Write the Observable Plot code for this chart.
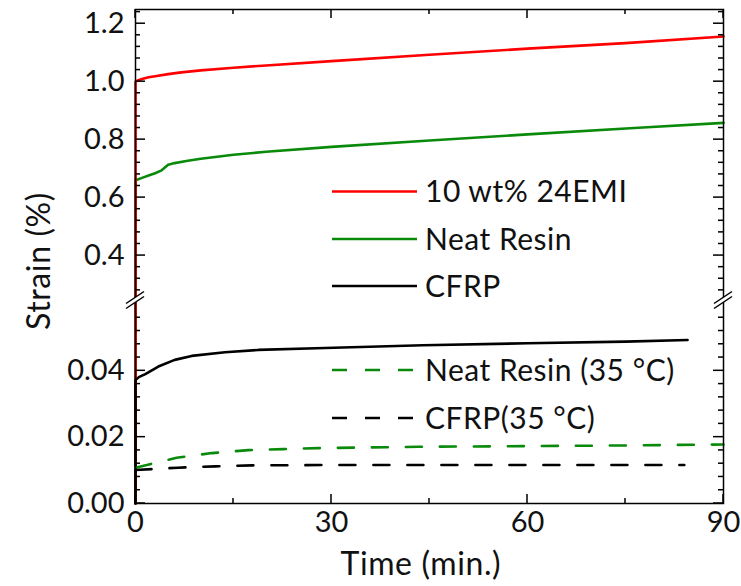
<!DOCTYPE html>
<html>
<head>
<meta charset="utf-8">
<script src="https://cdn.jsdelivr.net/npm/d3@7"></script>
<script src="https://cdn.jsdelivr.net/npm/@observablehq/plot@0.6"></script>
<style>
  body { margin: 0; background: #fff; font-family: Lato, "Open Sans", sans-serif; }
  #wrap { position: relative; width: 741px; height: 586px; overflow: hidden; }
  #wrap svg { display: block; }
  .title { position: absolute; font-size: 32px; letter-spacing: 0.6px; color: #111; white-space: nowrap; line-height: 1; }
  #legend { position: absolute; left: 0; top: 0; pointer-events: none; }
</style>
</head>
<body>
<div id="wrap"></div>
<script>
// ---------- data ----------
const seriesNames  = ["10 wt% 24EMI", "Neat Resin", "CFRP", "Neat Resin (35 °C)", "CFRP(35 °C)"];
const seriesColors = ["#ff0000", "#0a8a0a", "#000000", "#0a8a0a", "#000000"];
const seriesDashed = [false, false, false, true, true];

const timeEMI   = [0, 0,    0.3,   1,     2,     3,     5,     7,     10,    15,    20,    30,    45,    60,    75,    90];
const strainEMI = [0, 1.000, 1.004, 1.009, 1.015, 1.019, 1.026, 1.032, 1.039, 1.048, 1.056, 1.071, 1.093, 1.114, 1.133, 1.156];

const timeResin   = [0, 0,    1,     2,     3,     4,     5,     6,     8,     10,    15,    20,    30,    45,    60,    77,    90];
const strainResin = [0, 0.660, 0.668, 0.676, 0.684, 0.694, 0.713, 0.719, 0.727, 0.734, 0.748, 0.758, 0.775, 0.797, 0.818, 0.841, 0.858];

const timeCFRP   = [0, 0,      0.5,    1.5,   3.5,    6,      8.6,    13.7,   18.8,   29,     44,     60,     75,     84.5];
const strainCFRP = [0, 0.0372, 0.0381, 0.039, 0.0413, 0.0433, 0.0445, 0.0456, 0.0463, 0.0469, 0.0477, 0.0483, 0.0488, 0.0493];

const timeResin35   = [0,      6.3,    11.7,   17.3,   22.6,   28,     43.3,   60,     75,     90];
const strainResin35 = [0.0108, 0.0138, 0.0152, 0.0161, 0.0164, 0.0167, 0.0171, 0.0173, 0.0175, 0.0178];

const timeCFRP35   = [0,      6.5,    12.2,   17.8,   30,     50,     70,     84];
const strainCFRP35 = [0.0101, 0.0108, 0.0112, 0.0115, 0.0116, 0.0116, 0.0116, 0.0116];

// axis ticks
const xTickLabels = [0, 30, 60, 90];
const xMinorTicks = [15, 45, 75];
const yTickLabels = [0, 0.02, 0.04, 0.4, 0.6, 0.8, 1.0, 1.2];
const yMinorLow   = [0.004, 0.008, 0.012, 0.016, 0.024, 0.028, 0.032, 0.036, 0.044, 0.048, 0.052, 0.056];
const yMinorHigh  = [0.28, 0.32, 0.36, 0.44, 0.48, 0.52, 0.56, 0.64, 0.68, 0.72, 0.76, 0.84, 0.88, 0.92, 0.96, 1.04, 1.08, 1.12, 1.16, 1.24];

// broken y axis: lower panel 0 … 0.0612, upper panel 0.245 … 1.249
const yDomain = [0, 0.0612, 0.245, 1.249];
const xDomain = [0, 90];

// ---------- build ----------
const W = 741, H = 586;
const mL = 135, mR = 18, mT = 9, mB = 83;
const breakPx = 300;
const yRange = [H - mB, breakPx, breakPx, mT];

const series = [
  [timeEMI, strainEMI], [timeResin, strainResin], [timeCFRP, strainCFRP],
  [timeResin35, strainResin35], [timeCFRP35, strainCFRP35]
].map(([t, s], k) => t.map((tv, i) => ({t: tv, s: s[i], k})));

const drawOrder = [1, 0, 2, 3, 4];
const yFmt = v => v < 0.1 ? d3.format(".2f")(v) : d3.format(".1f")(v);

// tick rows as data for Plot rect marks (inward ticks on every side)
const yTickRows = [];
for (const [ticks, len] of [[yTickLabels, 10], [yMinorLow, 5], [yMinorHigh, 5]])
  for (const v of ticks) yTickRows.push({v, len});
const xTickRows = [];
for (const [ticks, len] of [[xTickLabels, 9], [xMinorTicks, 5]])
  for (const v of ticks) xTickRows.push({v, len});

// axis-break symbols and inward ticks, placed with the plot's own scales
function decorations(index, scales) {
  const g = d3.create("svg:g");
  const x0 = scales.x(xDomain[0]), x1 = scales.x(xDomain[1]);
  const y0 = scales.y(yDomain[0]), y1 = scales.y(yDomain[3]);
  for (const {v, len} of yTickRows) {
    const y = scales.y(v);
    g.append("rect").attr("x", x0).attr("y", y - 0.75).attr("width", len).attr("height", 1.5).attr("fill", "#000");
    g.append("rect").attr("x", x1 - len).attr("y", y - 0.75).attr("width", len).attr("height", 1.5).attr("fill", "#000");
  }
  for (const {v, len} of xTickRows) {
    const x = scales.x(v);
    g.append("rect").attr("x", x - 0.75).attr("y", y0 - len).attr("width", 1.5).attr("height", len).attr("fill", "#000");
    g.append("rect").attr("x", x - 0.75).attr("y", y1).attr("width", 1.5).attr("height", len).attr("fill", "#000");
  }
  const yb = scales.y(0.15);
  const gap = 5;
  for (const xb of [x0, x1]) {
    g.append("path")
      .attr("d", `M${xb - 9},${yb + 6 + gap / 2}L${xb + 9},${yb - 6 + gap / 2}L${xb + 9},${yb - 6 - gap / 2}L${xb - 9},${yb + 6 - gap / 2}Z`)
      .attr("fill", "#fff");
    for (const o of [-gap / 2, gap / 2]) {
      g.append("line")
        .attr("x1", xb - 9).attr("y1", yb + 6 + o)
        .attr("x2", xb + 9).attr("y2", yb - 6 + o)
        .attr("stroke", "#000").attr("stroke-width", 1.5);
    }
  }
  return g.node();
}

const chart = Plot.plot({
  width: W, height: H,
  marginLeft: mL, marginRight: mR, marginTop: mT, marginBottom: mB,
  style: {fontFamily: "Lato, 'Open Sans', sans-serif", fontSize: "29px", color: "#111", background: "#fff"},
  x: {domain: xDomain},
  y: {type: "linear", domain: yDomain, range: yRange},
  marks: [
    ...drawOrder.map(k => Plot.line(series[k], {
      x: "t", y: "s", stroke: seriesColors[k], strokeWidth: 2.6,
      strokeDasharray: seriesDashed[k] ? "16,18" : null
    })),
    Plot.axisY({anchor: "left", ticks: yTickLabels, tickSize: 0, tickPadding: 11, tickFormat: yFmt, label: null, fontSize: 29}),
    Plot.axisX({anchor: "bottom", ticks: xTickLabels, tickSize: 0, tickPadding: 8, tickFormat: d => String(d), label: null, fontSize: 29}),
    Plot.frame({stroke: "#000", strokeWidth: 1.5}),
    decorations
  ]
});

const wrap = document.getElementById("wrap");
wrap.appendChild(chart);

// axis titles
const xt = document.createElement("div");
xt.className = "title";
xt.textContent = "Time (min.)";
wrap.appendChild(xt);
xt.style.left = (421 - xt.offsetWidth / 2) + "px";
xt.style.top = (563 - xt.offsetHeight / 2) + "px";

const yt = document.createElement("div");
yt.className = "title";
yt.textContent = "Strain (%)";
wrap.appendChild(yt);
yt.style.left = (38 - yt.offsetWidth / 2) + "px";
yt.style.top = (261 - yt.offsetHeight / 2) + "px";
yt.style.transform = "rotate(-90deg)";

// legend (inside the plot area)
const leg = d3.select(wrap).append("svg")
  .attr("id", "legend").attr("width", W).attr("height", H)
  .style("font-family", "Lato, 'Open Sans', sans-serif").style("font-size", "30px")
  .style("letter-spacing", "0.5px");
const legendY = [191.5, 239, 286, 370, 418];
seriesNames.forEach((name, k) => {
  leg.append("line")
    .attr("x1", 332).attr("x2", 417).attr("y1", legendY[k]).attr("y2", legendY[k])
    .attr("stroke", seriesColors[k]).attr("stroke-width", 2.6)
    .attr("stroke-dasharray", seriesDashed[k] ? "15,18" : null);
  leg.append("text")
    .attr("x", 425).attr("y", legendY[k]).attr("dy", "0.35em")
    .attr("fill", "#111").text(name);
});
</script>
</body>
</html>
